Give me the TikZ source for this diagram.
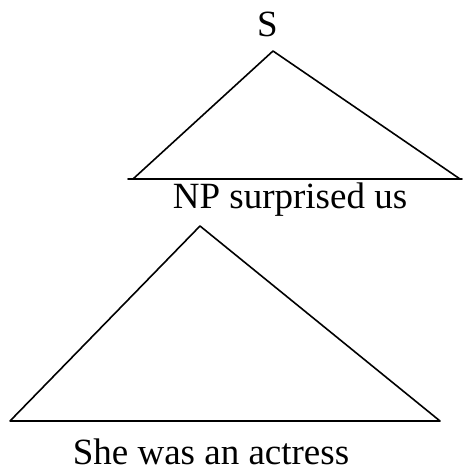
\documentclass[tikz,border=0pt]{standalone}
\usepackage{fontspec}
\setmainfont{Liberation Serif}
\begin{document}
\begin{tikzpicture}[x=1pt, y=-1pt, line cap=round, line join=round]
\useasboundingbox (0,0) rectangle (463,470);

\coordinate (A) at (273,51);
\coordinate (B) at (133,179);
\coordinate (C) at (460,179);
\coordinate (Bl) at (128,179);
\coordinate (Cr) at (462,179);

\coordinate (D) at (200,226);
\coordinate (E) at (10,421);
\coordinate (F) at (440,421);

\draw[line width=1.6pt] (B)--(A)--(C);
\draw[line width=1.6pt] (Bl)--(Cr);

\draw[line width=1.6pt] (E)--(D)--(F)--cycle;

\node[anchor=base, inner sep=0pt, font=\fontsize{37}{40}\selectfont] (S) at (267.5,37) {S};
\node[anchor=base, inner sep=0pt, font=\fontsize{37}{40}\selectfont] (NP) at (290,208) {NP surprised us};
\node[anchor=base, inner sep=0pt, font=\fontsize{37}{40}\selectfont] (She) at (211,464) {She was an actress};
\end{tikzpicture}
\end{document}
